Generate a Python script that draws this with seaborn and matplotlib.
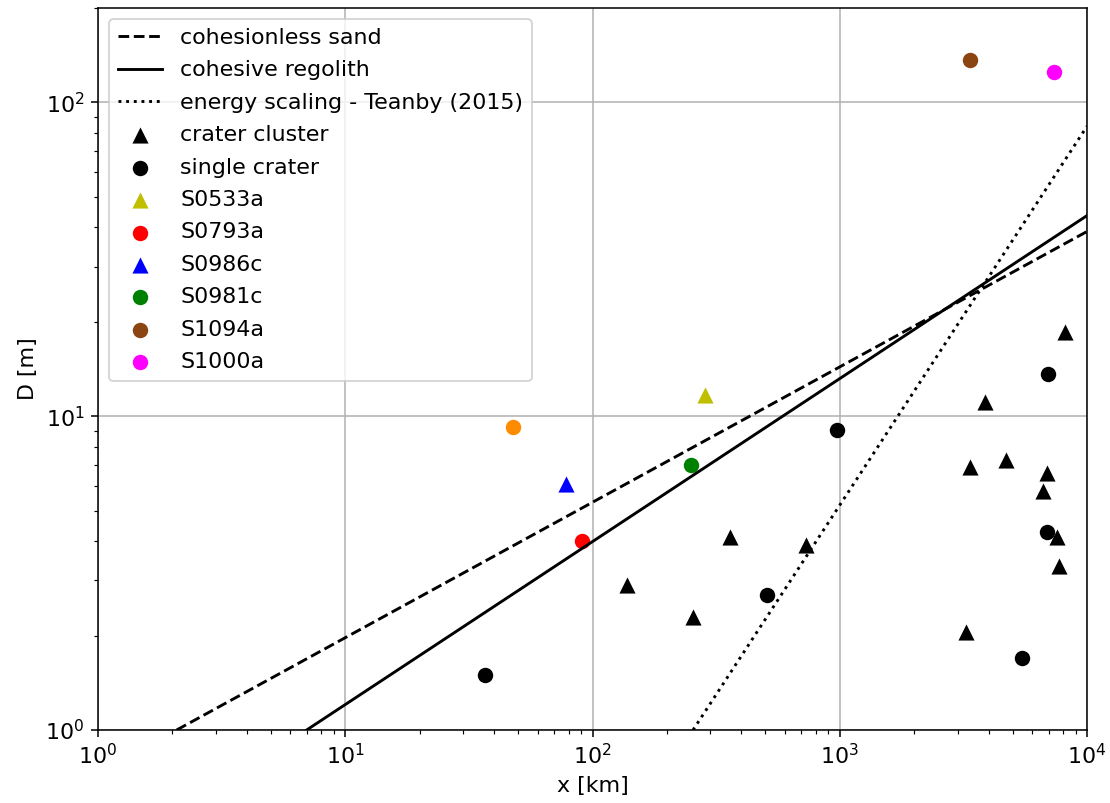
import matplotlib
matplotlib.use("Agg")
import matplotlib.pyplot as plt
import seaborn as sns

plt.rcParams["font.size"] = 11.5

# lines (end points)
sand_x = [2.08, 10000]
sand_y = [1.0, 38.8]
regolith_x = [6.98, 10000]
regolith_y = [1.0, 43.6]
energy_x = [255, 10000]
energy_y = [1.0, 84.0]

# crater clusters
cluster_x = [137.8, 254.6, 359, 727, 3371, 4710, 3875, 8150, 6897, 6640, 7570, 7710, 3249]
cluster_y = [2.90, 2.29, 4.13, 3.89, 6.90, 7.27, 11.1, 18.6, 6.60, 5.79, 4.13, 3.34, 2.05]

# single craters
single_x = [36.8, 506, 979, 6960, 6897, 5465]
single_y = [1.50, 2.70, 9.06, 13.66, 4.28, 1.70]

# named events
events = ["S0533a", "S0793a", "S0986c", "S0981c", "S1094a", "S1000a"]
event_x = [284, 90.8, 78.2, 250, 3371, 7360]
event_y = [11.7, 4.01, 6.09, 7.0, 137, 124.7]
event_marker = ["^", "o", "^", "o", "o", "o"]
event_color = ["y", "r", "b", "g", "#8b4513", "magenta"]

# unlabelled point
extra_x = [47.8]
extra_y = [9.26]

fig, ax = plt.subplots(figsize=(8, 5.7874), dpi=138.75)
fig.subplots_adjust(left=0.0883, right=0.9793, top=0.990, bottom=0.0909)

sns.lineplot(x=sand_x, y=sand_y, color="k", linestyle="--", lw=1.5, label="cohesionless sand", ax=ax)
sns.lineplot(x=regolith_x, y=regolith_y, color="k", linestyle="-", lw=1.5, label="cohesive regolith", ax=ax)
sns.lineplot(x=energy_x, y=energy_y, color="k", linestyle=":", lw=1.5,
             label="energy scaling - Teanby (2015)", ax=ax)

sns.scatterplot(x=cluster_x, y=cluster_y, marker="^", color="k", s=70, linewidth=0,
                label="crater cluster", ax=ax)
sns.scatterplot(x=single_x, y=single_y, marker="o", color="k", s=64, linewidth=0,
                label="single crater", ax=ax)
for name, ex, ey, m, c in zip(events, event_x, event_y, event_marker, event_color):
    sns.scatterplot(x=[ex], y=[ey], marker=m, color=c, s=70 if m == "^" else 64,
                    linewidth=0, label=name, ax=ax)
sns.scatterplot(x=extra_x, y=extra_y, marker="o", color="darkorange", s=64, linewidth=0, ax=ax)

ax.set_xscale("log")
ax.set_yscale("log")
ax.set_xlim(1, 1e4)
ax.set_ylim(1, 200)
ax.grid(True, which="major", color="#b0b0b0", linewidth=0.8)
ax.set_axisbelow(True)
ax.set_xlabel("x [km]")
ax.set_ylabel("D [m]")
ax.legend(loc="upper left", scatterpoints=1, labelspacing=0.56)

plt.savefig("out.png", dpi=138.75)
